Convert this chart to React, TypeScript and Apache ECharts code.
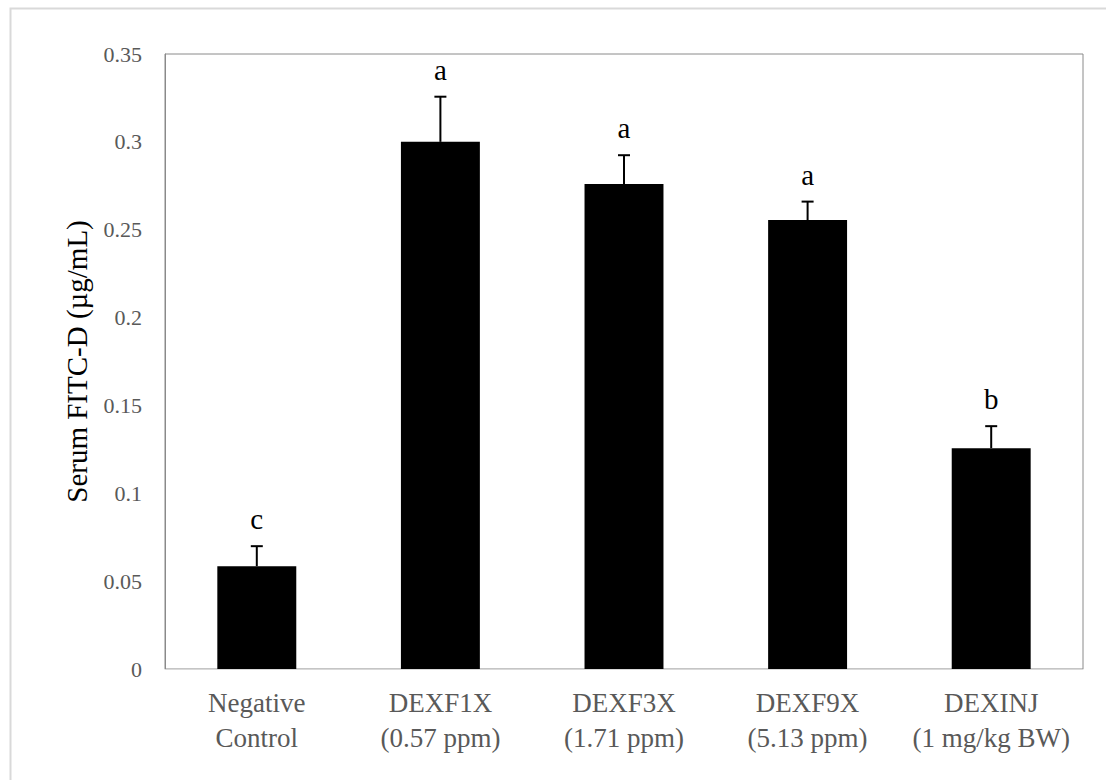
import React, { useEffect, useRef } from "react";
import * as echarts from "echarts";

const categories = [
  "Negative\nControl",
  "DEXF1X\n(0.57 ppm)",
  "DEXF3X\n(1.71 ppm)",
  "DEXF9X\n(5.13 ppm)",
  "DEXINJ\n(1 mg/kg BW)",
];
const means = [0.0585, 0.3, 0.276, 0.2555, 0.1257];
const errors = [0.0114, 0.0257, 0.0164, 0.0105, 0.0125];
const letters = ["c", "a", "a", "a", "b"];
const yTicks = { min: 0, max: 0.35, interval: 0.05 };

const FONT = "'Liberation Serif', 'Times New Roman', serif";

export default function App() {
  const ref = useRef<HTMLDivElement>(null);
  useEffect(() => {
    document.body.style.margin = "0";
    const chart = echarts.init(ref.current!, null, { renderer: "svg" });
    const errData = means.map((m, i) => [i, m, m + errors[i], letters[i]]);
    chart.setOption({
      animation: false,
      backgroundColor: "#ffffff",
      grid: {
        left: 165,
        top: 54,
        right: 23,
        bottom: 111,
        show: true,
        borderColor: "#8a8a8a",
        borderWidth: 1,
      },
      graphic: [
        {
          type: "rect",
          left: 8,
          top: 6,
          shape: { width: 1200, height: 900 },
          style: { fill: "none", stroke: "#d9d9d9", lineWidth: 2 },
          z: -10,
          silent: true,
        },
      ],
      xAxis: {
        type: "category",
        data: categories,
        axisTick: { show: false },
        axisLine: { show: true, lineStyle: { color: "#d9d9d9", width: 1 } },
        axisLabel: {
          color: "#595959",
          fontFamily: FONT,
          fontSize: 27,
          lineHeight: 35,
          margin: 16,
          interval: 0,
        },
      },
      yAxis: {
        type: "value",
        min: yTicks.min,
        max: yTicks.max,
        interval: yTicks.interval,
        splitLine: { show: false },
        axisTick: { show: false },
        axisLine: { show: true, lineStyle: { color: "#8a8a8a", width: 1 } },
        axisLabel: {
          color: "#595959",
          fontFamily: FONT,
          fontSize: 22,
          margin: 23,
        },
        name: "Serum FITC-D (\u00b5g/mL)",
        nameLocation: "middle",
        nameRotate: 90,
        nameGap: 74,
        nameTextStyle: { color: "#000000", fontFamily: FONT, fontSize: 29 },
      },
      series: [
        {
          type: "bar",
          data: means,
          barWidth: "43%",
          itemStyle: { color: "#000000" },
        },
        {
          type: "custom",
          data: errData,
          z: 10,
          renderItem: (params: any, api: any) => {
            const i = api.value(0);
            const base = api.coord([i, api.value(1)]);
            const top = api.coord([i, api.value(2)]);
            const letter = letters[params.dataIndex];
            return {
              type: "group",
              children: [
                {
                  type: "line",
                  shape: { x1: base[0], y1: base[1], x2: top[0], y2: top[1] },
                  style: { stroke: "#000", lineWidth: 2 },
                },
                {
                  type: "line",
                  shape: { x1: top[0] - 6, y1: top[1], x2: top[0] + 6, y2: top[1] },
                  style: { stroke: "#000", lineWidth: 2 },
                },
                {
                  type: "text",
                  x: top[0],
                  y: top[1] - 27,
                  style: {
                    text: letter,
                    fill: "#000",
                    font: `29px ${FONT}`,
                    align: "center",
                    verticalAlign: "middle",
                  },
                },
              ],
            };
          },
        },
      ],
    });
    return () => chart.dispose();
  }, []);
  return <div ref={ref} style={{ width: 1106, height: 780 }} />;
}
